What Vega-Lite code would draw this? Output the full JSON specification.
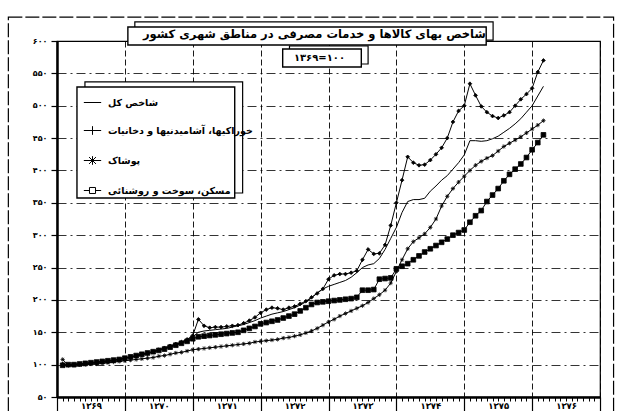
{
"$schema": "https://vega.github.io/schema/vega-lite/v6.json",
"width": 543, "height": 356,
"autosize": {"type": "none"},
"padding": {"left": 57, "top": 41, "right": 18, "bottom": 14},
"background": "white",
"config": {
  "view": {"stroke": "black", "strokeWidth": 1.2},
  "font": "DejaVu Sans",
  "axis": {"labelFont": "DejaVu Sans", "labelFontWeight": "bold", "labelColor": "black", "domainColor": "black", "tickColor": "black", "gridColor": "black", "title": null}
},
"data": {"values": [
{"s":"g","m":1,"v":100},{"s":"g","m":2,"v":100},{"s":"g","m":3,"v":101},{"s":"g","m":4,"v":101},{"s":"g","m":5,"v":102},{"s":"g","m":6,"v":103},{"s":"g","m":7,"v":104},{"s":"g","m":8,"v":105},{"s":"g","m":9,"v":106},{"s":"g","m":10,"v":107},{"s":"g","m":11,"v":108},{"s":"g","m":12,"v":110},
{"s":"g","m":13,"v":112},{"s":"g","m":14,"v":114},{"s":"g","m":15,"v":116},{"s":"g","m":16,"v":118},{"s":"g","m":17,"v":120},{"s":"g","m":18,"v":122},{"s":"g","m":19,"v":125},{"s":"g","m":20,"v":128},{"s":"g","m":21,"v":131},{"s":"g","m":22,"v":134},{"s":"g","m":23,"v":138},{"s":"g","m":24,"v":143},
{"s":"g","m":25,"v":150},{"s":"g","m":26,"v":152},{"s":"g","m":27,"v":153},{"s":"g","m":28,"v":154},{"s":"g","m":29,"v":155},{"s":"g","m":30,"v":156},{"s":"g","m":31,"v":158},{"s":"g","m":32,"v":160},{"s":"g","m":33,"v":162},{"s":"g","m":34,"v":165},{"s":"g","m":35,"v":168},{"s":"g","m":36,"v":172},
{"s":"g","m":37,"v":175},{"s":"g","m":38,"v":178},{"s":"g","m":39,"v":180},{"s":"g","m":40,"v":182},{"s":"g","m":41,"v":185},{"s":"g","m":42,"v":188},{"s":"g","m":43,"v":192},{"s":"g","m":44,"v":197},{"s":"g","m":45,"v":203},{"s":"g","m":46,"v":211},{"s":"g","m":47,"v":217},{"s":"g","m":48,"v":221},
{"s":"g","m":49,"v":224},{"s":"g","m":50,"v":227},{"s":"g","m":51,"v":230},{"s":"g","m":52,"v":235},{"s":"g","m":53,"v":242},{"s":"g","m":54,"v":250},{"s":"g","m":55,"v":254},{"s":"g","m":56,"v":256},{"s":"g","m":57,"v":264},{"s":"g","m":58,"v":278},{"s":"g","m":59,"v":295},{"s":"g","m":60,"v":312},
{"s":"g","m":61,"v":335},{"s":"g","m":62,"v":352},{"s":"g","m":63,"v":355},{"s":"g","m":64,"v":355},{"s":"g","m":65,"v":357},{"s":"g","m":66,"v":368},{"s":"g","m":67,"v":376},{"s":"g","m":68,"v":385},{"s":"g","m":69,"v":392},{"s":"g","m":70,"v":402},{"s":"g","m":71,"v":412},{"s":"g","m":72,"v":424},
{"s":"g","m":73,"v":446},{"s":"g","m":74,"v":446},{"s":"g","m":75,"v":445},{"s":"g","m":76,"v":446},{"s":"g","m":77,"v":449},{"s":"g","m":78,"v":453},{"s":"g","m":79,"v":459},{"s":"g","m":80,"v":465},{"s":"g","m":81,"v":472},{"s":"g","m":82,"v":480},{"s":"g","m":83,"v":490},{"s":"g","m":84,"v":500},{"s":"g","m":85,"v":515},{"s":"g","m":86,"v":530},
{"s":"f","m":1,"v":101},{"s":"f","m":2,"v":99},{"s":"f","m":3,"v":100},{"s":"f","m":4,"v":101},{"s":"f","m":5,"v":102},{"s":"f","m":6,"v":102},{"s":"f","m":7,"v":103},{"s":"f","m":8,"v":104},{"s":"f","m":9,"v":105},{"s":"f","m":10,"v":106},{"s":"f","m":11,"v":108},{"s":"f","m":12,"v":110},
{"s":"f","m":13,"v":111},{"s":"f","m":14,"v":113},{"s":"f","m":15,"v":115},{"s":"f","m":16,"v":117},{"s":"f","m":17,"v":120},{"s":"f","m":18,"v":123},{"s":"f","m":19,"v":126},{"s":"f","m":20,"v":129},{"s":"f","m":21,"v":132},{"s":"f","m":22,"v":135},{"s":"f","m":23,"v":139},{"s":"f","m":24,"v":145},
{"s":"f","m":25,"v":170},{"s":"f","m":26,"v":160},{"s":"f","m":27,"v":157},{"s":"f","m":28,"v":158},{"s":"f","m":29,"v":158},{"s":"f","m":30,"v":159},{"s":"f","m":31,"v":160},{"s":"f","m":32,"v":161},{"s":"f","m":33,"v":164},{"s":"f","m":34,"v":168},{"s":"f","m":35,"v":173},{"s":"f","m":36,"v":180},
{"s":"f","m":37,"v":185},{"s":"f","m":38,"v":188},{"s":"f","m":39,"v":187},{"s":"f","m":40,"v":185},{"s":"f","m":41,"v":188},{"s":"f","m":42,"v":190},{"s":"f","m":43,"v":194},{"s":"f","m":44,"v":198},{"s":"f","m":45,"v":204},{"s":"f","m":46,"v":210},{"s":"f","m":47,"v":217},{"s":"f","m":48,"v":232},
{"s":"f","m":49,"v":238},{"s":"f","m":50,"v":240},{"s":"f","m":51,"v":240},{"s":"f","m":52,"v":242},{"s":"f","m":53,"v":245},{"s":"f","m":54,"v":262},{"s":"f","m":55,"v":278},{"s":"f","m":56,"v":271},{"s":"f","m":57,"v":272},{"s":"f","m":58,"v":285},{"s":"f","m":59,"v":315},{"s":"f","m":60,"v":350},
{"s":"f","m":61,"v":385},{"s":"f","m":62,"v":421},{"s":"f","m":63,"v":412},{"s":"f","m":64,"v":408},{"s":"f","m":65,"v":409},{"s":"f","m":66,"v":416},{"s":"f","m":67,"v":425},{"s":"f","m":68,"v":435},{"s":"f","m":69,"v":450},{"s":"f","m":70,"v":475},{"s":"f","m":71,"v":492},{"s":"f","m":72,"v":500},
{"s":"f","m":73,"v":534},{"s":"f","m":74,"v":516},{"s":"f","m":75,"v":499},{"s":"f","m":76,"v":490},{"s":"f","m":77,"v":484},{"s":"f","m":78,"v":481},{"s":"f","m":79,"v":485},{"s":"f","m":80,"v":490},{"s":"f","m":81,"v":500},{"s":"f","m":82,"v":510},{"s":"f","m":83,"v":518},{"s":"f","m":84,"v":527},{"s":"f","m":85,"v":552},{"s":"f","m":86,"v":570},
{"s":"c","m":1,"v":108},{"s":"c","m":2,"v":99},{"s":"c","m":3,"v":99},{"s":"c","m":4,"v":100},{"s":"c","m":5,"v":100},{"s":"c","m":6,"v":101},{"s":"c","m":7,"v":101},{"s":"c","m":8,"v":102},{"s":"c","m":9,"v":103},{"s":"c","m":10,"v":104},{"s":"c","m":11,"v":105},{"s":"c","m":12,"v":106},
{"s":"c","m":13,"v":107},{"s":"c","m":14,"v":108},{"s":"c","m":15,"v":109},{"s":"c","m":16,"v":110},{"s":"c","m":17,"v":111},{"s":"c","m":18,"v":113},{"s":"c","m":19,"v":114},{"s":"c","m":20,"v":116},{"s":"c","m":21,"v":118},{"s":"c","m":22,"v":119},{"s":"c","m":23,"v":121},{"s":"c","m":24,"v":123},
{"s":"c","m":25,"v":124},{"s":"c","m":26,"v":125},{"s":"c","m":27,"v":126},{"s":"c","m":28,"v":127},{"s":"c","m":29,"v":128},{"s":"c","m":30,"v":129},{"s":"c","m":31,"v":130},{"s":"c","m":32,"v":131},{"s":"c","m":33,"v":132},{"s":"c","m":34,"v":133},{"s":"c","m":35,"v":135},{"s":"c","m":36,"v":136},
{"s":"c","m":37,"v":137},{"s":"c","m":38,"v":138},{"s":"c","m":39,"v":139},{"s":"c","m":40,"v":141},{"s":"c","m":41,"v":142},{"s":"c","m":42,"v":144},{"s":"c","m":43,"v":146},{"s":"c","m":44,"v":149},{"s":"c","m":45,"v":152},{"s":"c","m":46,"v":156},{"s":"c","m":47,"v":161},{"s":"c","m":48,"v":166},
{"s":"c","m":49,"v":170},{"s":"c","m":50,"v":175},{"s":"c","m":51,"v":179},{"s":"c","m":52,"v":183},{"s":"c","m":53,"v":187},{"s":"c","m":54,"v":191},{"s":"c","m":55,"v":196},{"s":"c","m":56,"v":202},{"s":"c","m":57,"v":208},{"s":"c","m":58,"v":215},{"s":"c","m":59,"v":226},{"s":"c","m":60,"v":244},
{"s":"c","m":61,"v":262},{"s":"c","m":62,"v":279},{"s":"c","m":63,"v":290},{"s":"c","m":64,"v":296},{"s":"c","m":65,"v":302},{"s":"c","m":66,"v":312},{"s":"c","m":67,"v":325},{"s":"c","m":68,"v":345},{"s":"c","m":69,"v":360},{"s":"c","m":70,"v":372},{"s":"c","m":71,"v":382},{"s":"c","m":72,"v":391},
{"s":"c","m":73,"v":400},{"s":"c","m":74,"v":408},{"s":"c","m":75,"v":414},{"s":"c","m":76,"v":419},{"s":"c","m":77,"v":423},{"s":"c","m":78,"v":430},{"s":"c","m":79,"v":437},{"s":"c","m":80,"v":442},{"s":"c","m":81,"v":447},{"s":"c","m":82,"v":452},{"s":"c","m":83,"v":458},{"s":"c","m":84,"v":464},{"s":"c","m":85,"v":470},{"s":"c","m":86,"v":477},
{"s":"h","m":1,"v":99},{"s":"h","m":2,"v":100},{"s":"h","m":3,"v":100},{"s":"h","m":4,"v":101},{"s":"h","m":5,"v":102},{"s":"h","m":6,"v":103},{"s":"h","m":7,"v":104},{"s":"h","m":8,"v":105},{"s":"h","m":9,"v":106},{"s":"h","m":10,"v":107},{"s":"h","m":11,"v":108},{"s":"h","m":12,"v":110},
{"s":"h","m":13,"v":112},{"s":"h","m":14,"v":114},{"s":"h","m":15,"v":116},{"s":"h","m":16,"v":118},{"s":"h","m":17,"v":120},{"s":"h","m":18,"v":122},{"s":"h","m":19,"v":124},{"s":"h","m":20,"v":127},{"s":"h","m":21,"v":130},{"s":"h","m":22,"v":133},{"s":"h","m":23,"v":136},{"s":"h","m":24,"v":140},
{"s":"h","m":25,"v":143},{"s":"h","m":26,"v":144},{"s":"h","m":27,"v":145},{"s":"h","m":28,"v":146},{"s":"h","m":29,"v":147},{"s":"h","m":30,"v":148},{"s":"h","m":31,"v":149},{"s":"h","m":32,"v":150},{"s":"h","m":33,"v":153},{"s":"h","m":34,"v":156},{"s":"h","m":35,"v":159},{"s":"h","m":36,"v":163},
{"s":"h","m":37,"v":165},{"s":"h","m":38,"v":167},{"s":"h","m":39,"v":169},{"s":"h","m":40,"v":172},{"s":"h","m":41,"v":175},{"s":"h","m":42,"v":178},{"s":"h","m":43,"v":183},{"s":"h","m":44,"v":188},{"s":"h","m":45,"v":193},{"s":"h","m":46,"v":196},{"s":"h","m":47,"v":197},{"s":"h","m":48,"v":198},
{"s":"h","m":49,"v":199},{"s":"h","m":50,"v":200},{"s":"h","m":51,"v":201},{"s":"h","m":52,"v":202},{"s":"h","m":53,"v":204},{"s":"h","m":54,"v":215},{"s":"h","m":55,"v":215},{"s":"h","m":56,"v":216},{"s":"h","m":57,"v":232},{"s":"h","m":58,"v":233},{"s":"h","m":59,"v":234},{"s":"h","m":60,"v":248},
{"s":"h","m":61,"v":252},{"s":"h","m":62,"v":256},{"s":"h","m":63,"v":262},{"s":"h","m":64,"v":268},{"s":"h","m":65,"v":274},{"s":"h","m":66,"v":279},{"s":"h","m":67,"v":284},{"s":"h","m":68,"v":289},{"s":"h","m":69,"v":294},{"s":"h","m":70,"v":300},{"s":"h","m":71,"v":304},{"s":"h","m":72,"v":308},
{"s":"h","m":73,"v":320},{"s":"h","m":74,"v":330},{"s":"h","m":75,"v":338},{"s":"h","m":76,"v":352},{"s":"h","m":77,"v":362},{"s":"h","m":78,"v":372},{"s":"h","m":79,"v":384},{"s":"h","m":80,"v":394},{"s":"h","m":81,"v":402},{"s":"h","m":82,"v":410},{"s":"h","m":83,"v":420},{"s":"h","m":84,"v":432},{"s":"h","m":85,"v":443},{"s":"h","m":86,"v":455}
]},
"layer": [
  {
    "data": {"values": [{}]},
    "mark": {"type": "rect", "fill": "transparent", "stroke": "black", "strokeWidth": 1.2, "strokeDash": [14, 3]},
    "encoding": {"x": {"datum": -8.6, "type": "quantitative", "axis": null}, "x2": {"datum": 98.4}, "y": {"datum": 637, "type": "quantitative"}, "y2": {"datum": 20}}
  },
  {
    "mark": {"type": "line", "interpolate": "linear"},
    "encoding": {
      "x": {"field": "m", "type": "quantitative", "scale": {"domain": [0, 96], "nice": false, "zero": false},
        "axis": {"orient": "bottom", "values": [0,1,2,3,4,5,6,7,8,9,10,11,12,13,14,15,16,17,18,19,20,21,22,23,24,25,26,27,28,29,30,31,32,33,34,35,36,37,38,39,40,41,42,43,44,45,46,47,48,49,50,51,52,53,54,55,56,57,58,59,60,61,62,63,64,65,66,67,68,69,70,71,72,73,74,75,76,77,78,79,80,81,82,83,84,85,86,87,88,89,90,91,92,93,94,95,96],
          "tickCount": 100, "tickSize": 4, "tickWidth": 1, "domainWidth": 2.5, "grid": false,
          "labelExpr": "datum.value % 12 == 6 ? ['۱۳۶۹','۱۳۷۰','۱۳۷۱','۱۳۷۲','۱۳۷۳','۱۳۷۴','۱۳۷۵','۱۳۷۶'][(datum.value - 6) / 12] : ''",
          "labelFontSize": 8.5, "labelPadding": 0, "labelOverlap": false, "labelFlush": false, "labelBound": false}},
      "y": {"field": "v", "type": "quantitative", "scale": {"domain": [50, 600], "nice": false, "zero": false},
        "axis": {"values": [50,100,150,200,250,300,350,400,450,500,550,600], "tickCount": 20, "tickSize": 6, "tickWidth": 1.2, "domainWidth": 2.5,
          "grid": true, "gridDash": [9,4,2,4], "gridWidth": 0.8,
          "labelExpr": "(datum.value >= 100 ? substring('۰۱۲۳۴۵۶۷۸۹', floor(datum.value/100), floor(datum.value/100)+1) : '') + substring('۰۱۲۳۴۵۶۷۸۹', floor(datum.value/10)%10, floor(datum.value/10)%10+1) + '۰'",
          "labelFontSize": 8, "labelPadding": 4, "labelOverlap": false, "labelFlush": false, "labelBound": false}},
      "color": {"field": "s", "type": "nominal", "scale": {"domain": ["g","f","c","h"], "range": ["black","black","black","black"]},
        "legend": {"orient": "none", "legendX": 26, "legendY": 52, "title": null, "direction": "vertical",
          "labelExpr": "datum.value == 'g' ? 'شاخص کل' : datum.value == 'f' ? 'خوراکیها، آشامیدنیها و دخانیات' : datum.value == 'c' ? 'پوشاک' : 'مسکن، سوخت و روشنائی'",
          "labelFont": "DejaVu Sans", "labelFontWeight": "bold", "labelFontSize": 9.5, "labelColor": "black",
          "rowPadding": 14, "padding": 0, "symbolSize": 300, "labelOffset": 6, "labelLimit": 220,
          "encode": {"symbols": {"update": {
            "shape": {"signal": "datum.value == 'g' ? 'M-1,0H1' : datum.value == 'f' ? 'M-1,0H1M0,-0.5V0.5' : datum.value == 'c' ? 'M-1,0H1M0,-0.5V0.5M-0.4,-0.4L0.4,0.4M-0.4,0.4L0.4,-0.4' : 'M-1,0H-0.35M0.35,0H1M-0.35,-0.35H0.35V0.35H-0.35Z'"},
            "fill": {"value": "transparent"}, "stroke": {"value": "black"}, "strokeWidth": {"value": 1.5}}}}}},
      "strokeWidth": {"field": "s", "type": "nominal", "scale": {"domain": ["g","f","c","h"], "range": [1, 1, 1.3, 2.6]}, "legend": null}
    }
  },
  {
    "transform": [{"filter": "datum.s != 'g'"}],
    "mark": {"type": "point", "filled": true, "color": "black", "stroke": "black", "strokeWidth": 0.8, "opacity": 1},
    "encoding": {
      "x": {"field": "m", "type": "quantitative",
        "axis": {"orient": "bottom", "values": [0,12,24,36,48,60,72,84,96], "tickCount": 20, "tickSize": 14, "tickWidth": 1.2, "domain": false, "labels": false,
          "grid": true, "gridDash": [6,3], "gridWidth": 0.9}},
      "y": {"field": "v", "type": "quantitative"},
      "shape": {"field": "s", "type": "nominal", "scale": {"domain": ["f","c","h"], "range": ["diamond", "M-1,0H1M0,-1V1M-0.7,-0.7L0.7,0.7M-0.7,0.7L0.7,-0.7", "square"]}, "legend": null},
      "size": {"field": "s", "type": "nominal", "scale": {"domain": ["f","c","h"], "range": [14, 22, 16]}, "legend": null}
    }
  },
  {
    "data": {"values": [{}]},
    "mark": {"type": "rect", "fill": "white", "stroke": "black", "strokeWidth": 1.2},
    "encoding": {"x": {"datum": 4.94, "type": "quantitative", "axis": null}, "x2": {"datum": 32.82}, "y": {"datum": 536.7, "type": "quantitative"}, "y2": {"datum": 365.2}}
  },
  {
    "data": {"values": [{}]},
    "mark": {"type": "rect", "fill": "white", "stroke": "black", "strokeWidth": 1.4},
    "encoding": {"x": {"datum": 3.53, "type": "quantitative", "axis": null}, "x2": {"datum": 31.42}, "y": {"datum": 528.9, "type": "quantitative"}, "y2": {"datum": 357.5}}
  },
  {
    "data": {"values": [{}]},
    "mark": {"type": "rect", "fill": "white", "stroke": "black", "strokeWidth": 1.2},
    "encoding": {"x": {"datum": 13.76, "type": "quantitative", "axis": null}, "x2": {"datum": 77.1}, "y": {"datum": 629.4, "type": "quantitative"}, "y2": {"datum": 601.5}}
  },
  {
    "data": {"values": [{}]},
    "mark": {"type": "rect", "fill": "white", "stroke": "black", "strokeWidth": 1.4},
    "encoding": {"x": {"datum": 12.53, "type": "quantitative", "axis": null}, "x2": {"datum": 75.88}, "y": {"datum": 621.6, "type": "quantitative"}, "y2": {"datum": 593.8}}
  },
  {
    "data": {"values": [{}]},
    "mark": {"type": "rect", "fill": "white", "stroke": "black", "strokeWidth": 1.2},
    "encoding": {"x": {"datum": 41.1, "type": "quantitative", "axis": null}, "x2": {"datum": 55.0}, "y": {"datum": 592.3, "type": "quantitative"}, "y2": {"datum": 564.5}}
  },
  {
    "data": {"values": [{}]},
    "mark": {"type": "rect", "fill": "white", "stroke": "black", "strokeWidth": 1.4},
    "encoding": {"x": {"datum": 39.9, "type": "quantitative", "axis": null}, "x2": {"datum": 53.8}, "y": {"datum": 587.6, "type": "quantitative"}, "y2": {"datum": 559.8}}
  },
  {
    "data": {"values": [{}]},
    "mark": {"type": "text", "font": "DejaVu Sans", "fontWeight": "bold", "fontSize": 11.5, "baseline": "middle", "align": "center", "color": "black"},
    "encoding": {"x": {"datum": 45.5, "type": "quantitative", "axis": null}, "y": {"datum": 609, "type": "quantitative"}, "text": {"value": "شاخص بهای کالاها و خدمات مصرفی در مناطق شهری کشور"}}
  },
  {
    "data": {"values": [{}]},
    "mark": {"type": "text", "font": "DejaVu Sans", "fontWeight": "bold", "fontSize": 10, "baseline": "middle", "align": "center", "color": "black"},
    "encoding": {"x": {"datum": 46.4, "type": "quantitative", "axis": null}, "y": {"datum": 573.5, "type": "quantitative"}, "text": {"value": "۱۳۶۹=۱۰۰"}}
  }
],
"resolve": {"axis": {"x": "independent"}}
}
